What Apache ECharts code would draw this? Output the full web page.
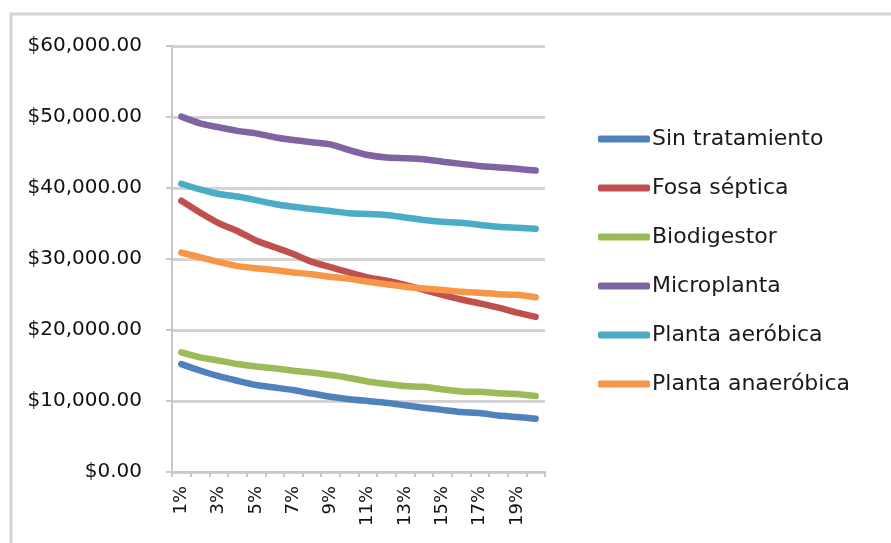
<!DOCTYPE html>
<html>
<head>
<meta charset="utf-8">
<script src="https://cdn.jsdelivr.net/npm/echarts@6/dist/echarts.min.js"></script>
<style>
html,body{margin:0;padding:0;background:#fff;}
#c{width:891px;height:543px;}
</style>
</head>
<body>
<div id="c"></div>
<script>
const categories = ['1%','2%','3%','4%','5%','6%','7%','8%','9%','10%','11%','12%','13%','14%','15%','16%','17%','18%','19%','20%'];
const seriesNames = ['Sin tratamiento','Fosa séptica','Biodigestor','Microplanta','Planta aeróbica','Planta anaeróbica'];
const sinTratamiento = [15200,14300,13500,12850,12250,11900,11550,11050,10600,10250,10000,9750,9400,9050,8750,8450,8300,7950,7750,7500];
const fosaSeptica = [38200,36550,35050,33950,32600,31650,30700,29600,28850,28100,27400,26950,26350,25650,24950,24300,23750,23150,22450,21850];
const biodigestor = [16850,16150,15700,15200,14850,14600,14250,14000,13650,13250,12750,12400,12100,12000,11650,11350,11300,11100,11000,10700];
const microplanta = [50050,49100,48550,48050,47700,47150,46750,46450,46150,45350,44650,44300,44200,44050,43700,43400,43100,42900,42700,42450];
const plantaAerobica = [40600,39800,39150,38800,38300,37750,37350,37050,36750,36450,36350,36200,35850,35500,35250,35100,34800,34550,34400,34250];
const plantaAnaerobica = [30900,30250,29600,29000,28700,28450,28100,27850,27500,27200,26800,26450,26100,25850,25650,25400,25250,25050,24950,24600];
const colors = ['#4F81BD','#C0504D','#9BBB59','#8064A2','#4BACC6','#F79646'];
const allData = [sinTratamiento, fosaSeptica, biodigestor, microplanta, plantaAerobica, plantaAnaerobica];

const chart = echarts.init(document.getElementById('c'), null, {renderer:'canvas'});
const fmt = v => '$' + Number(v).toLocaleString('en-US',{minimumFractionDigits:2, maximumFractionDigits:2});
chart.setOption({
  animation: false,
  color: colors,
  graphic: [{
    type: 'rect',
    shape: {x: 11, y: 14, width: 900, height: 560},
    style: {fill: 'none', stroke: '#d4d4d4', lineWidth: 3},
    silent: true
  }],
  grid: {left: 172, right: 346, top: 46, bottom: 71, containLabel: false},
  legend: {
    orient: 'vertical',
    left: 598,
    top: 128,
    padding: 0,
    itemWidth: 52,
    itemHeight: 7,
    itemGap: 27,
    icon: 'roundRect',
    textStyle: {fontFamily: 'DejaVu Sans', fontSize: 22, lineHeight: 22, color: '#1a1a1a', padding: [0,0,0,-3]},
    data: seriesNames
  },
  xAxis: {
    type: 'category',
    data: categories,
    boundaryGap: true,
    axisLine: {lineStyle: {color: '#c8c8c8', width: 2}},
    axisTick: {show: true, length: 5, lineStyle: {color: '#c8c8c8', width: 2}, interval: 0},
    axisLabel: {rotate: 90, interval: 1, fontFamily: 'DejaVu Sans', fontSize: 18, color: '#111', margin: 14},
    splitLine: {show: false}
  },
  yAxis: {
    type: 'value',
    min: 0, max: 60000, interval: 10000,
    axisLine: {show: true, lineStyle: {color: '#c8c8c8', width: 2}},
    axisTick: {show: true, length: 6, lineStyle: {color: '#c8c8c8', width: 2}},
    axisLabel: {formatter: fmt, fontFamily: 'DejaVu Sans', fontSize: 20, color: '#111', margin: 30},
    splitLine: {show: true, lineStyle: {color: '#d4d4d4', width: 3}}
  },
  series: seriesNames.map((n, i) => ({
    name: n,
    type: 'line',
    data: allData[i],
    symbol: 'none',
    smooth: 0.2,
    lineStyle: {width: 6.5, cap: 'round', join: 'round', color: colors[i]},
    itemStyle: {color: colors[i]}
  }))
});
</script>
</body>
</html>
